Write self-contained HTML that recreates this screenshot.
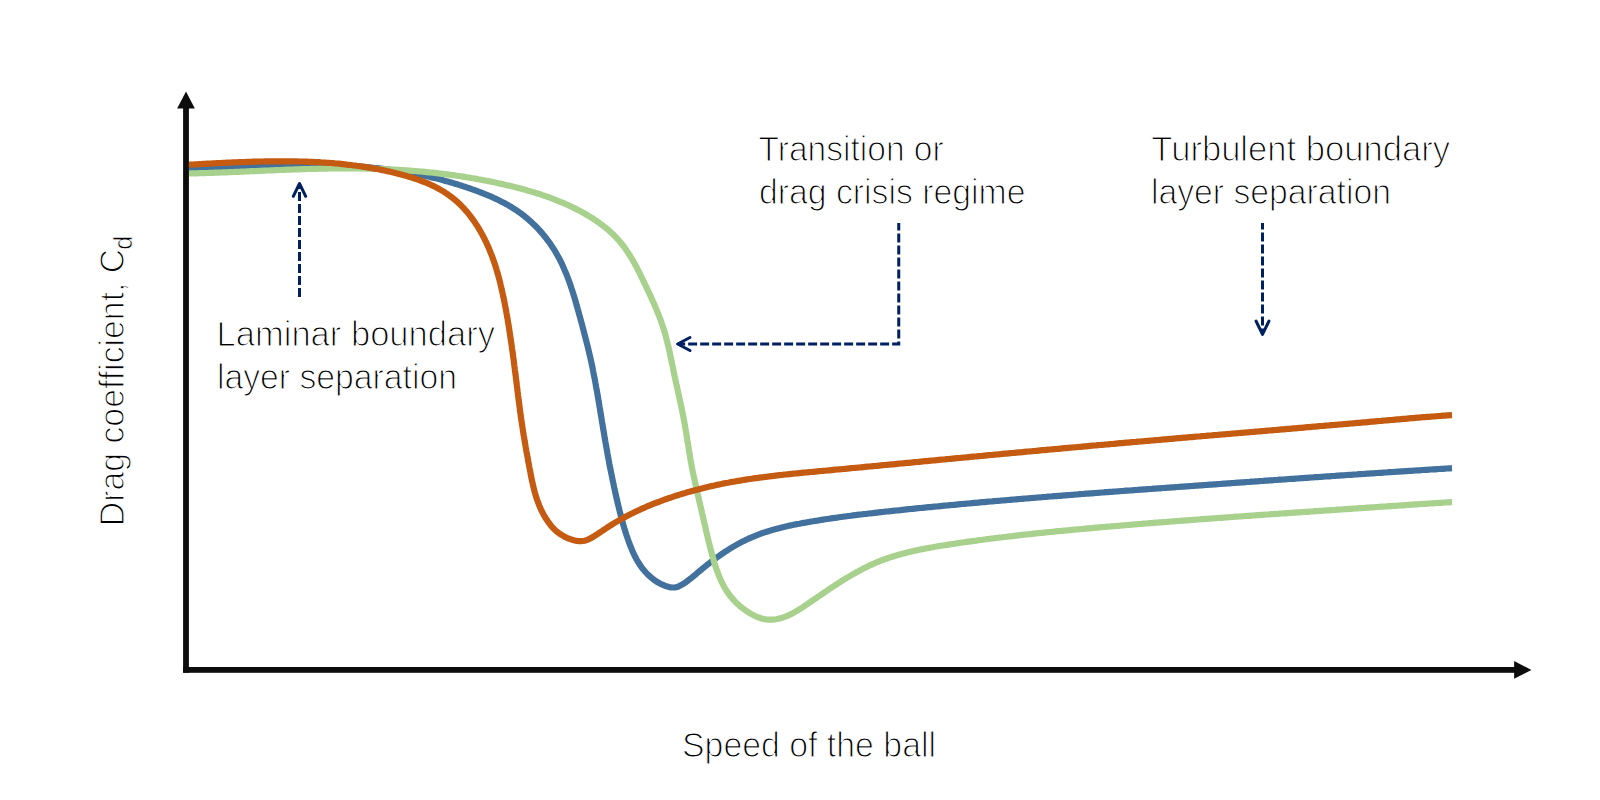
<!DOCTYPE html>
<html><head><meta charset="utf-8"><style>
html,body{margin:0;padding:0;background:#fff;width:1600px;height:800px;overflow:hidden}
svg{position:absolute;left:0;top:0}
text{font-family:"Liberation Sans",sans-serif;fill:#000}
</style></head><body>
<svg width="1600" height="800" viewBox="0 0 1600 800">
<g fill="none" stroke-width="6.2" stroke-linecap="butt" stroke-linejoin="round">
<path stroke="#41719C" d="M189.0,169.0L191.4,168.9 193.1,168.9 195.0,168.8 196.9,168.7 198.9,168.7 200.9,168.6 202.9,168.5 204.8,168.4 206.8,168.4 208.8,168.3 210.8,168.2 212.8,168.1 214.8,168.0 216.8,168.0 218.8,167.9 220.8,167.8 222.8,167.7 224.8,167.6 226.8,167.5 228.7,167.5 230.7,167.4 232.7,167.3 234.7,167.2 236.7,167.1 238.7,167.0 240.8,166.9 242.8,166.9 244.8,166.8 246.8,166.7 248.8,166.6 250.8,166.5 252.8,166.5 254.8,166.4 256.8,166.3 258.8,166.2 260.8,166.2 262.8,166.1 264.8,166.0 266.8,165.9 268.8,165.9 270.9,165.8 272.9,165.7 274.9,165.7 276.9,165.6 278.9,165.6 280.9,165.5 282.9,165.5 284.9,165.4 286.9,165.4 289.0,165.3 291.0,165.3 293.0,165.3 295.0,165.2 297.0,165.2 299.0,165.2 301.0,165.2 303.0,165.1 305.1,165.1 307.1,165.1 309.1,165.1 311.1,165.1 313.1,165.1 315.1,165.1 317.1,165.1 319.1,165.2 321.1,165.2 323.1,165.2 325.1,165.2 327.2,165.3 329.2,165.3 331.2,165.4 333.2,165.4 335.2,165.5 337.2,165.5 339.2,165.6 341.2,165.7 343.2,165.8 345.2,165.9 347.2,166.0 349.2,166.1 351.2,166.2 353.2,166.3 355.2,166.4 357.2,166.5 359.2,166.7 361.2,166.8 363.2,166.9 365.1,167.1 367.1,167.3 369.1,167.4 371.1,167.6 373.1,167.8 375.1,168.0 377.1,168.2 379.1,168.4 381.0,168.6 383.0,168.8 385.0,169.1 387.0,169.3 388.9,169.6 390.9,169.8 392.9,170.1 394.9,170.4 396.8,170.6 398.8,170.9 400.8,171.2 402.7,171.5 404.7,171.9 406.7,172.2 408.6,172.5 410.6,172.9 412.5,173.2 414.5,173.6 416.5,174.0 418.4,174.4 420.4,174.8 422.3,175.2 424.2,175.6 426.2,176.0 428.1,176.5 430.1,176.9 432.0,177.4 434.0,177.9 435.9,178.3 437.8,178.8 439.8,179.3 441.7,179.8 443.6,180.4 445.5,180.9 447.5,181.4 449.4,182.0 451.3,182.5 453.2,183.1 455.1,183.7 457.1,184.3 459.0,184.9 460.9,185.5 462.8,186.1 464.7,186.7 466.6,187.4 468.5,188.0 470.4,188.7 472.3,189.4 474.2,190.0 476.1,190.7 478.0,191.4 479.9,192.1 481.8,192.9 483.7,193.6 485.6,194.4 487.4,195.1 489.3,195.9 491.1,196.7 493.0,197.5 494.8,198.4 496.6,199.2 498.4,200.1 500.2,201.0 502.0,201.9 503.8,202.8 505.6,203.8 507.3,204.7 509.0,205.7 510.8,206.7 512.5,207.8 514.1,208.8 515.8,209.9 517.5,211.0 519.1,212.2 520.7,213.3 522.3,214.5 523.9,215.7 525.4,217.0 526.9,218.2 528.4,219.5 529.9,220.8 531.4,222.1 532.8,223.5 534.3,224.9 535.7,226.3 537.1,227.7 538.4,229.1 539.8,230.6 541.1,232.1 542.4,233.6 543.6,235.1 544.9,236.6 546.1,238.2 547.3,239.8 548.5,241.4 549.7,243.0 550.8,244.6 551.9,246.3 553.0,247.9 554.1,249.6 555.1,251.3 556.1,253.0 557.1,254.8 558.1,256.5 559.1,258.3 560.0,260.0 560.9,261.8 561.8,263.6 562.6,265.4 563.4,267.2 564.2,269.1 565.0,270.9 565.8,272.7 566.6,274.6 567.3,276.5 568.0,278.3 568.7,280.2 569.4,282.1 570.1,284.0 570.7,285.9 571.3,287.8 572.0,289.7 572.6,291.7 573.2,293.6 573.8,295.5 574.4,297.4 575.0,299.4 575.5,301.3 576.1,303.2 576.6,305.2 577.2,307.1 577.7,309.1 578.3,311.0 578.8,312.9 579.3,314.9 579.9,316.8 580.4,318.7 580.9,320.7 581.5,322.6 582.0,324.5 582.5,326.5 583.0,328.4 583.5,330.3 584.0,332.2 584.5,334.2 585.0,336.1 585.5,338.0 586.0,339.9 586.5,341.9 587.0,343.8 587.5,345.7 588.0,347.7 588.4,349.6 588.9,351.5 589.3,353.5 589.8,355.4 590.2,357.3 590.7,359.3 591.1,361.2 591.5,363.2 591.9,365.1 592.4,367.1 592.8,369.1 593.1,371.0 593.5,373.0 593.9,375.0 594.3,376.9 594.7,378.9 595.1,380.9 595.4,382.8 595.8,384.8 596.1,386.8 596.5,388.8 596.8,390.7 597.2,392.7 597.5,394.7 597.9,396.7 598.2,398.6 598.5,400.6 598.9,402.6 599.2,404.6 599.5,406.5 599.9,408.5 600.2,410.5 600.5,412.5 600.8,414.4 601.2,416.4 601.5,418.4 601.8,420.4 602.1,422.3 602.5,424.3 602.8,426.3 603.1,428.2 603.4,430.2 603.8,432.2 604.1,434.1 604.4,436.1 604.7,438.1 605.1,440.0 605.4,442.0 605.8,444.0 606.1,445.9 606.5,447.9 606.8,449.9 607.2,451.8 607.5,453.8 607.9,455.8 608.2,457.7 608.6,459.7 609.0,461.7 609.3,463.6 609.7,465.6 610.1,467.6 610.5,469.5 610.9,471.5 611.3,473.4 611.7,475.4 612.1,477.4 612.5,479.3 612.9,481.3 613.3,483.2 613.7,485.2 614.1,487.2 614.6,489.1 615.0,491.1 615.4,493.0 615.8,495.0 616.3,496.9 616.7,498.9 617.2,500.8 617.6,502.8 618.1,504.7 618.6,506.7 619.0,508.6 619.5,510.6 620.0,512.5 620.5,514.4 621.0,516.4 621.5,518.3 622.0,520.2 622.6,522.1 623.1,524.1 623.7,526.0 624.2,527.9 624.8,529.8 625.4,531.7 626.0,533.6 626.6,535.5 627.3,537.4 627.9,539.3 628.6,541.2 629.3,543.1 630.0,545.0 630.7,546.8 631.5,548.7 632.2,550.5 633.1,552.4 633.9,554.2 634.8,556.0 635.7,557.7 636.6,559.5 637.6,561.2 638.7,562.9 639.7,564.6 640.9,566.3 642.0,567.9 643.3,569.5 644.6,571.0 645.9,572.5 647.3,574.0 648.7,575.4 650.2,576.7 651.7,578.0 653.3,579.2 654.9,580.4 656.5,581.5 658.2,582.5 660.0,583.5 661.8,584.4 663.6,585.2 665.5,586.0 667.4,586.6 669.3,587.1 671.2,587.4 673.1,587.5 675.1,587.4 677.0,587.0 678.8,586.3 680.7,585.4 682.4,584.4 684.2,583.3 685.8,582.2 687.4,581.0 689.0,579.8 690.6,578.6 692.1,577.4 693.6,576.1 695.2,574.8 696.7,573.5 698.2,572.2 699.7,571.0 701.3,569.7 702.8,568.4 704.4,567.1 705.9,565.9 707.5,564.6 709.1,563.4 710.6,562.2 712.2,560.9 713.8,559.7 715.5,558.5 717.1,557.3 718.7,556.2 720.4,555.0 722.0,553.9 723.7,552.8 725.3,551.6 727.0,550.6 728.7,549.5 730.4,548.4 732.1,547.4 733.8,546.4 735.6,545.4 737.3,544.4 739.1,543.4 740.8,542.5 742.6,541.6 744.4,540.7 746.2,539.8 748.0,538.9 749.8,538.1 751.6,537.3 753.4,536.6 755.3,535.8 757.1,535.1 759.0,534.4 760.8,533.7 762.7,533.0 764.6,532.4 766.5,531.8 768.4,531.2 770.3,530.6 772.2,530.0 774.1,529.5 776.0,528.9 778.0,528.4 779.9,527.9 781.9,527.4 783.8,527.0 785.7,526.5 787.7,526.1 789.7,525.6 791.6,525.2 793.6,524.8 795.6,524.4 797.5,524.0 799.5,523.7 801.5,523.3 803.4,522.9 805.4,522.6 807.4,522.2 809.4,521.9 811.4,521.5 813.3,521.2 815.3,520.9 817.3,520.6 819.3,520.2 821.3,519.9 823.2,519.6 825.2,519.3 827.2,519.0 829.2,518.7 831.2,518.4 833.1,518.1 835.1,517.8 837.1,517.6 839.1,517.3 841.1,517.0 843.1,516.7 845.0,516.5 847.0,516.2 849.0,516.0 851.0,515.7 853.0,515.4 855.0,515.2 856.9,514.9 858.9,514.7 860.9,514.5 862.9,514.2 864.9,514.0 866.9,513.8 868.8,513.5 870.8,513.3 872.8,513.1 874.8,512.8 876.8,512.6 878.8,512.4 880.8,512.2 882.7,512.0 884.7,511.7 886.7,511.5 888.7,511.3 890.7,511.1 892.7,510.9 894.7,510.7 896.6,510.5 898.6,510.3 900.6,510.1 902.6,509.8 904.6,509.6 906.6,509.4 908.6,509.2 910.6,509.0 912.5,508.8 914.5,508.6 916.5,508.4 918.5,508.2 920.5,508.0 922.5,507.8 924.5,507.6 926.5,507.4 928.5,507.2 930.4,507.1 932.4,506.9 934.4,506.7 936.4,506.5 938.4,506.3 940.4,506.1 942.4,505.9 944.4,505.7 946.4,505.5 948.3,505.3 950.3,505.1 952.3,505.0 954.3,504.8 956.3,504.6 958.3,504.4 960.3,504.2 962.3,504.0 964.3,503.8 966.3,503.7 968.3,503.5 970.2,503.3 972.2,503.1 974.2,502.9 976.2,502.8 978.2,502.6 980.2,502.4 982.2,502.2 984.2,502.1 986.2,501.9 988.2,501.7 990.2,501.5 992.2,501.4 994.2,501.2 996.1,501.0 998.1,500.8 1000.1,500.7 1002.1,500.5 1004.1,500.3 1006.1,500.2 1008.1,500.0 1010.1,499.8 1012.1,499.6 1014.1,499.5 1016.1,499.3 1018.1,499.1 1020.1,499.0 1022.1,498.8 1024.0,498.6 1026.0,498.5 1028.0,498.3 1030.0,498.2 1032.0,498.0 1034.0,497.8 1036.0,497.7 1038.0,497.5 1040.0,497.3 1042.0,497.2 1044.0,497.0 1046.0,496.9 1048.0,496.7 1050.0,496.5 1052.0,496.4 1054.0,496.2 1056.0,496.1 1057.9,495.9 1059.9,495.8 1061.9,495.6 1063.9,495.4 1065.9,495.3 1067.9,495.1 1069.9,495.0 1071.9,494.8 1073.9,494.7 1075.9,494.5 1077.9,494.4 1079.9,494.2 1081.9,494.0 1083.9,493.9 1085.9,493.7 1087.9,493.6 1089.9,493.4 1091.9,493.3 1093.9,493.1 1095.9,493.0 1097.8,492.8 1099.8,492.7 1101.8,492.5 1103.8,492.4 1105.8,492.2 1107.8,492.1 1109.8,491.9 1111.8,491.8 1113.8,491.6 1115.8,491.5 1117.8,491.3 1119.8,491.2 1121.8,491.0 1123.8,490.9 1125.8,490.7 1127.8,490.6 1129.8,490.5 1131.8,490.3 1133.8,490.2 1135.8,490.0 1137.8,489.9 1139.8,489.7 1141.7,489.6 1143.7,489.4 1145.7,489.3 1147.7,489.1 1149.7,489.0 1151.7,488.9 1153.7,488.7 1155.7,488.6 1157.7,488.4 1159.7,488.3 1161.7,488.1 1163.7,488.0 1165.7,487.8 1167.7,487.7 1169.7,487.6 1171.7,487.4 1173.7,487.3 1175.7,487.1 1177.7,487.0 1179.7,486.8 1181.7,486.7 1183.7,486.6 1185.6,486.4 1187.6,486.3 1189.6,486.1 1191.6,486.0 1193.6,485.8 1195.6,485.7 1197.6,485.6 1199.6,485.4 1201.6,485.3 1203.6,485.1 1205.6,485.0 1207.6,484.8 1209.6,484.7 1211.6,484.6 1213.6,484.4 1215.6,484.3 1217.6,484.1 1219.6,484.0 1221.6,483.8 1223.6,483.7 1225.5,483.6 1227.5,483.4 1229.5,483.3 1231.5,483.1 1233.5,483.0 1235.5,482.8 1237.5,482.7 1239.5,482.6 1241.5,482.4 1243.5,482.3 1245.5,482.1 1247.5,482.0 1249.5,481.9 1251.5,481.7 1253.5,481.6 1255.5,481.4 1257.5,481.3 1259.5,481.1 1261.4,481.0 1263.4,480.9 1265.4,480.7 1267.4,480.6 1269.4,480.4 1271.4,480.3 1273.4,480.2 1275.4,480.0 1277.4,479.9 1279.4,479.7 1281.4,479.6 1283.4,479.5 1285.4,479.3 1287.4,479.2 1289.4,479.0 1291.4,478.9 1293.4,478.8 1295.4,478.6 1297.3,478.5 1299.3,478.3 1301.3,478.2 1303.3,478.1 1305.3,477.9 1307.3,477.8 1309.3,477.6 1311.3,477.5 1313.3,477.4 1315.3,477.2 1317.3,477.1 1319.3,477.0 1321.3,476.8 1323.3,476.7 1325.3,476.5 1327.3,476.4 1329.3,476.3 1331.3,476.1 1333.2,476.0 1335.2,475.9 1337.2,475.7 1339.2,475.6 1341.2,475.4 1343.2,475.3 1345.2,475.2 1347.2,475.0 1349.2,474.9 1351.2,474.8 1353.2,474.6 1355.2,474.5 1357.2,474.4 1359.2,474.2 1361.2,474.1 1363.2,474.0 1365.2,473.8 1367.2,473.7 1369.2,473.6 1371.2,473.4 1373.1,473.3 1375.1,473.2 1377.1,473.0 1379.1,472.9 1381.1,472.8 1383.1,472.6 1385.1,472.5 1387.1,472.4 1389.1,472.2 1391.1,472.1 1393.1,472.0 1395.1,471.8 1397.1,471.7 1399.1,471.6 1401.1,471.4 1403.1,471.3 1405.1,471.2 1407.1,471.1 1409.1,470.9 1411.1,470.8 1413.1,470.7 1415.1,470.5 1417.1,470.4 1419.1,470.3 1421.0,470.2 1423.0,470.0 1425.0,469.9 1427.0,469.8 1429.0,469.6 1431.0,469.5 1433.0,469.4 1435.0,469.3 1437.0,469.1 1439.0,469.0 1441.0,468.9 1443.0,468.8 1445.0,468.6 1447.0,468.5 1448.8,468.4 1450.3,468.3 1452.0,468.2"/>
<path stroke="#A9D18E" d="M189.0,173.5L191.4,173.4 193.1,173.4 195.0,173.4 197.0,173.3 199.0,173.2 201.0,173.2 203.0,173.1 205.0,173.1 207.0,173.0 209.0,172.9 211.0,172.9 213.0,172.8 215.0,172.7 217.0,172.7 219.0,172.6 221.0,172.5 223.0,172.4 225.0,172.4 227.0,172.3 229.0,172.2 231.0,172.1 233.0,172.0 235.0,171.9 237.0,171.9 239.0,171.8 241.0,171.7 243.0,171.6 245.0,171.5 247.0,171.4 249.0,171.3 251.0,171.2 253.0,171.2 255.0,171.1 257.0,171.0 259.0,170.9 261.0,170.8 263.0,170.7 265.0,170.6 267.0,170.5 269.0,170.5 271.0,170.4 273.0,170.3 275.0,170.2 277.0,170.1 279.0,170.0 281.0,170.0 283.0,169.9 285.0,169.8 287.0,169.7 289.0,169.6 291.0,169.6 293.0,169.5 295.0,169.4 297.0,169.4 299.0,169.3 301.0,169.2 303.0,169.2 305.0,169.1 307.0,169.0 309.0,169.0 311.0,168.9 313.0,168.9 315.0,168.8 317.0,168.8 319.0,168.7 321.0,168.7 323.0,168.6 325.0,168.6 327.0,168.6 329.0,168.5 331.0,168.5 333.0,168.5 335.0,168.5 337.0,168.4 339.0,168.4 341.0,168.4 343.0,168.4 345.0,168.4 347.0,168.4 349.0,168.4 351.0,168.4 353.0,168.4 355.0,168.4 357.0,168.5 359.0,168.5 361.0,168.5 363.0,168.5 365.0,168.6 367.0,168.6 369.0,168.7 371.0,168.7 373.0,168.8 375.0,168.8 377.0,168.9 379.0,169.0 381.0,169.0 383.0,169.1 385.0,169.2 387.0,169.3 389.0,169.4 391.0,169.5 393.0,169.6 395.0,169.7 397.0,169.8 399.0,169.9 401.0,170.0 403.0,170.1 405.0,170.3 407.0,170.4 409.0,170.6 410.9,170.7 412.9,170.9 414.9,171.0 416.9,171.2 418.9,171.3 420.9,171.5 422.9,171.7 424.9,171.9 426.9,172.1 428.9,172.3 430.9,172.5 432.9,172.7 434.8,172.9 436.8,173.1 438.8,173.4 440.8,173.6 442.8,173.8 444.8,174.1 446.8,174.3 448.7,174.6 450.7,174.9 452.7,175.1 454.7,175.4 456.7,175.7 458.7,176.0 460.6,176.3 462.6,176.6 464.6,176.9 466.6,177.2 468.5,177.5 470.5,177.9 472.5,178.2 474.5,178.5 476.4,178.9 478.4,179.3 480.4,179.6 482.3,180.0 484.3,180.4 486.3,180.7 488.2,181.1 490.2,181.5 492.2,181.9 494.1,182.3 496.1,182.7 498.0,183.2 500.0,183.6 501.9,184.0 503.9,184.5 505.8,184.9 507.8,185.4 509.7,185.8 511.7,186.3 513.6,186.8 515.6,187.3 517.5,187.8 519.4,188.3 521.4,188.8 523.3,189.3 525.2,189.8 527.1,190.4 529.1,190.9 531.0,191.5 532.9,192.0 534.8,192.6 536.7,193.2 538.6,193.8 540.5,194.4 542.4,195.1 544.3,195.7 546.2,196.4 548.0,197.0 549.9,197.7 551.8,198.4 553.6,199.1 555.5,199.8 557.4,200.6 559.2,201.3 561.1,202.1 562.9,202.8 564.7,203.6 566.6,204.5 568.4,205.3 570.2,206.1 572.0,207.0 573.8,207.9 575.6,208.7 577.4,209.7 579.2,210.6 580.9,211.5 582.7,212.5 584.5,213.5 586.2,214.5 587.9,215.5 589.7,216.6 591.4,217.6 593.1,218.7 594.8,219.8 596.4,220.9 598.1,222.1 599.7,223.2 601.3,224.4 602.9,225.6 604.5,226.9 606.1,228.1 607.6,229.4 609.1,230.7 610.6,232.0 612.1,233.4 613.5,234.8 614.9,236.2 616.3,237.6 617.6,239.1 618.9,240.5 620.2,242.1 621.5,243.6 622.7,245.1 623.9,246.7 625.1,248.3 626.2,249.9 627.3,251.6 628.4,253.2 629.5,254.9 630.5,256.6 631.6,258.3 632.6,260.0 633.6,261.8 634.6,263.5 635.5,265.3 636.5,267.1 637.4,268.8 638.3,270.6 639.2,272.4 640.1,274.2 641.0,276.0 641.9,277.8 642.8,279.7 643.6,281.5 644.5,283.3 645.4,285.1 646.2,286.9 647.1,288.7 647.9,290.5 648.8,292.3 649.6,294.2 650.5,296.0 651.3,297.8 652.1,299.6 652.9,301.4 653.8,303.2 654.5,305.0 655.3,306.9 656.1,308.7 656.9,310.5 657.6,312.4 658.4,314.2 659.1,316.0 659.8,317.9 660.5,319.8 661.2,321.6 661.8,323.5 662.5,325.4 663.1,327.3 663.7,329.1 664.3,331.0 664.8,333.0 665.4,334.9 665.9,336.8 666.4,338.7 666.9,340.7 667.4,342.6 667.9,344.6 668.4,346.5 668.8,348.5 669.3,350.4 669.7,352.4 670.1,354.4 670.5,356.3 670.9,358.3 671.4,360.3 671.8,362.3 672.2,364.2 672.6,366.2 673.0,368.2 673.4,370.1 673.8,372.1 674.2,374.1 674.6,376.1 675.0,378.0 675.4,380.0 675.9,381.9 676.3,383.9 676.7,385.8 677.2,387.8 677.6,389.7 678.0,391.7 678.4,393.6 678.9,395.6 679.3,397.5 679.7,399.5 680.2,401.4 680.6,403.4 681.0,405.3 681.4,407.3 681.8,409.2 682.2,411.2 682.6,413.1 683.0,415.1 683.4,417.0 683.8,419.0 684.1,421.0 684.5,422.9 684.8,424.9 685.2,426.9 685.5,428.8 685.8,430.8 686.2,432.8 686.5,434.8 686.8,436.7 687.1,438.7 687.4,440.7 687.7,442.7 688.1,444.6 688.4,446.6 688.7,448.6 689.0,450.6 689.3,452.6 689.7,454.5 690.0,456.5 690.3,458.5 690.7,460.5 691.0,462.4 691.4,464.4 691.8,466.4 692.1,468.3 692.5,470.3 692.9,472.3 693.3,474.2 693.7,476.2 694.1,478.1 694.6,480.1 695.0,482.0 695.4,484.0 695.9,485.9 696.3,487.9 696.7,489.9 697.2,491.8 697.6,493.7 698.1,495.7 698.5,497.6 699.0,499.6 699.4,501.5 699.9,503.5 700.3,505.4 700.8,507.4 701.2,509.3 701.7,511.3 702.1,513.2 702.6,515.2 703.0,517.1 703.4,519.0 703.9,521.0 704.3,522.9 704.8,524.9 705.2,526.8 705.7,528.8 706.1,530.7 706.6,532.7 707.0,534.6 707.5,536.5 707.9,538.5 708.4,540.4 708.9,542.4 709.4,544.3 709.8,546.3 710.3,548.2 710.9,550.2 711.4,552.1 711.9,554.0 712.4,556.0 713.0,557.9 713.5,559.9 714.1,561.8 714.7,563.7 715.3,565.7 715.9,567.6 716.6,569.5 717.3,571.4 718.0,573.2 718.7,575.1 719.4,577.0 720.2,578.8 721.0,580.6 721.9,582.4 722.8,584.2 723.7,585.9 724.7,587.7 725.7,589.4 726.7,591.0 727.8,592.7 729.0,594.3 730.1,595.9 731.4,597.4 732.7,598.9 734.0,600.4 735.4,601.9 736.8,603.3 738.3,604.6 739.8,606.0 741.4,607.3 743.0,608.5 744.7,609.7 746.3,610.9 748.0,612.0 749.8,613.1 751.5,614.1 753.3,615.1 755.1,616.0 757.0,616.8 758.8,617.5 760.7,618.2 762.6,618.7 764.5,619.1 766.4,619.4 768.4,619.6 770.3,619.7 772.3,619.7 774.3,619.5 776.2,619.2 778.2,618.8 780.2,618.4 782.1,617.8 784.0,617.1 786.0,616.4 787.9,615.6 789.7,614.8 791.6,613.9 793.4,612.9 795.1,611.9 796.9,610.9 798.6,609.9 800.2,608.8 801.9,607.8 803.5,606.7 805.1,605.6 806.8,604.5 808.4,603.4 810.0,602.3 811.7,601.1 813.3,600.0 814.9,598.9 816.6,597.8 818.2,596.6 819.9,595.5 821.5,594.4 823.2,593.3 824.8,592.1 826.5,591.0 828.2,589.9 829.8,588.8 831.5,587.6 833.2,586.5 834.9,585.4 836.6,584.3 838.3,583.2 840.0,582.1 841.7,581.0 843.4,580.0 845.1,578.9 846.8,577.9 848.6,576.8 850.3,575.8 852.0,574.8 853.8,573.8 855.5,572.8 857.3,571.8 859.0,570.8 860.8,569.9 862.6,569.0 864.4,568.1 866.2,567.2 868.0,566.3 869.8,565.4 871.6,564.6 873.4,563.8 875.2,563.0 877.1,562.2 878.9,561.5 880.8,560.7 882.6,560.0 884.5,559.3 886.4,558.7 888.2,558.0 890.1,557.4 892.0,556.8 893.9,556.2 895.8,555.6 897.7,555.0 899.6,554.5 901.6,554.0 903.5,553.4 905.4,552.9 907.3,552.4 909.3,552.0 911.2,551.5 913.2,551.1 915.1,550.6 917.1,550.2 919.0,549.8 921.0,549.4 923.0,549.0 924.9,548.6 926.9,548.2 928.9,547.9 930.8,547.5 932.8,547.2 934.8,546.8 936.8,546.5 938.7,546.1 940.7,545.8 942.7,545.5 944.7,545.2 946.7,544.9 948.7,544.6 950.6,544.3 952.6,544.0 954.6,543.7 956.6,543.4 958.6,543.1 960.6,542.8 962.6,542.5 964.5,542.2 966.5,541.9 968.5,541.7 970.5,541.4 972.5,541.1 974.5,540.8 976.5,540.6 978.4,540.3 980.4,540.0 982.4,539.8 984.4,539.5 986.4,539.2 988.4,539.0 990.4,538.7 992.3,538.5 994.3,538.2 996.3,538.0 998.3,537.7 1000.3,537.5 1002.3,537.3 1004.3,537.0 1006.2,536.8 1008.2,536.5 1010.2,536.3 1012.2,536.1 1014.2,535.8 1016.2,535.6 1018.2,535.4 1020.2,535.2 1022.1,534.9 1024.1,534.7 1026.1,534.5 1028.1,534.3 1030.1,534.1 1032.1,533.9 1034.1,533.7 1036.1,533.4 1038.1,533.2 1040.0,533.0 1042.0,532.8 1044.0,532.6 1046.0,532.4 1048.0,532.2 1050.0,532.0 1052.0,531.8 1054.0,531.6 1056.0,531.4 1057.9,531.2 1059.9,531.0 1061.9,530.8 1063.9,530.6 1065.9,530.5 1067.9,530.3 1069.9,530.1 1071.9,529.9 1073.9,529.7 1075.9,529.5 1077.8,529.3 1079.8,529.2 1081.8,529.0 1083.8,528.8 1085.8,528.6 1087.8,528.4 1089.8,528.3 1091.8,528.1 1093.8,527.9 1095.8,527.7 1097.8,527.6 1099.7,527.4 1101.7,527.2 1103.7,527.0 1105.7,526.9 1107.7,526.7 1109.7,526.5 1111.7,526.3 1113.7,526.2 1115.7,526.0 1117.7,525.8 1119.7,525.7 1121.7,525.5 1123.7,525.3 1125.7,525.2 1127.6,525.0 1129.6,524.8 1131.6,524.7 1133.6,524.5 1135.6,524.3 1137.6,524.2 1139.6,524.0 1141.6,523.9 1143.6,523.7 1145.6,523.5 1147.6,523.4 1149.6,523.2 1151.6,523.1 1153.6,522.9 1155.6,522.7 1157.6,522.6 1159.6,522.4 1161.5,522.3 1163.5,522.1 1165.5,522.0 1167.5,521.8 1169.5,521.6 1171.5,521.5 1173.5,521.3 1175.5,521.2 1177.5,521.0 1179.5,520.9 1181.5,520.7 1183.5,520.6 1185.5,520.4 1187.5,520.3 1189.5,520.1 1191.5,520.0 1193.5,519.8 1195.5,519.7 1197.5,519.5 1199.5,519.4 1201.5,519.2 1203.5,519.1 1205.4,518.9 1207.4,518.8 1209.4,518.6 1211.4,518.5 1213.4,518.3 1215.4,518.2 1217.4,518.0 1219.4,517.9 1221.4,517.8 1223.4,517.6 1225.4,517.5 1227.4,517.3 1229.4,517.2 1231.4,517.0 1233.4,516.9 1235.4,516.7 1237.4,516.6 1239.4,516.5 1241.4,516.3 1243.4,516.2 1245.4,516.0 1247.4,515.9 1249.4,515.8 1251.4,515.6 1253.4,515.5 1255.4,515.3 1257.4,515.2 1259.4,515.1 1261.4,514.9 1263.4,514.8 1265.3,514.6 1267.3,514.5 1269.3,514.4 1271.3,514.2 1273.3,514.1 1275.3,513.9 1277.3,513.8 1279.3,513.7 1281.3,513.5 1283.3,513.4 1285.3,513.3 1287.3,513.1 1289.3,513.0 1291.3,512.8 1293.3,512.7 1295.3,512.6 1297.3,512.4 1299.3,512.3 1301.3,512.2 1303.3,512.0 1305.3,511.9 1307.3,511.8 1309.3,511.6 1311.3,511.5 1313.3,511.4 1315.3,511.2 1317.3,511.1 1319.3,510.9 1321.3,510.8 1323.3,510.7 1325.2,510.5 1327.2,510.4 1329.2,510.3 1331.2,510.1 1333.2,510.0 1335.2,509.9 1337.2,509.7 1339.2,509.6 1341.2,509.5 1343.2,509.3 1345.2,509.2 1347.2,509.1 1349.2,508.9 1351.2,508.8 1353.2,508.6 1355.2,508.5 1357.2,508.4 1359.2,508.2 1361.2,508.1 1363.2,508.0 1365.2,507.8 1367.2,507.7 1369.1,507.6 1371.1,507.4 1373.1,507.3 1375.1,507.2 1377.1,507.0 1379.1,506.9 1381.1,506.7 1383.1,506.6 1385.1,506.5 1387.1,506.3 1389.1,506.2 1391.1,506.1 1393.1,505.9 1395.1,505.8 1397.1,505.7 1399.1,505.5 1401.1,505.4 1403.0,505.3 1405.0,505.1 1407.0,505.0 1409.0,504.8 1411.0,504.7 1413.0,504.6 1415.0,504.4 1417.0,504.3 1419.0,504.2 1421.0,504.0 1423.0,503.9 1425.0,503.8 1427.0,503.7 1429.0,503.5 1431.0,503.4 1433.0,503.3 1435.0,503.1 1437.0,503.0 1439.0,502.9 1441.0,502.8 1443.0,502.6 1445.0,502.5 1446.9,502.4 1448.8,502.3 1450.2,502.2 1452.0,502.1"/>
<path stroke="#C55A11" d="M189.0,164.7L191.4,164.6 193.1,164.5 195.0,164.4 197.0,164.3 199.0,164.1 201.0,164.0 203.0,163.9 205.0,163.8 207.0,163.7 209.0,163.6 211.0,163.5 213.0,163.4 215.0,163.3 217.0,163.2 219.0,163.1 221.0,163.0 223.0,162.9 225.0,162.8 227.0,162.7 229.0,162.6 231.0,162.5 233.0,162.4 235.0,162.3 237.0,162.3 239.0,162.2 241.0,162.1 243.0,162.0 245.0,162.0 247.0,161.9 249.0,161.8 251.0,161.8 253.0,161.7 255.0,161.6 257.0,161.6 259.0,161.5 261.0,161.5 262.9,161.5 264.9,161.4 266.9,161.4 268.9,161.4 270.9,161.3 272.9,161.3 274.9,161.3 276.9,161.3 278.9,161.3 280.9,161.3 282.9,161.3 284.9,161.3 286.9,161.3 288.9,161.3 290.9,161.3 292.9,161.4 294.9,161.4 296.9,161.4 298.9,161.5 300.9,161.5 302.9,161.6 304.9,161.6 306.9,161.7 308.9,161.8 310.9,161.9 312.9,161.9 314.9,162.0 316.9,162.1 318.9,162.2 320.9,162.4 322.9,162.5 324.9,162.6 326.9,162.8 328.9,162.9 330.9,163.0 332.9,163.2 334.9,163.4 336.9,163.5 338.9,163.7 340.9,163.9 342.9,164.1 344.8,164.3 346.8,164.6 348.8,164.8 350.8,165.0 352.8,165.3 354.8,165.5 356.8,165.8 358.8,166.0 360.8,166.3 362.7,166.6 364.7,166.9 366.7,167.2 368.7,167.6 370.7,167.9 372.6,168.2 374.6,168.6 376.6,169.0 378.5,169.3 380.5,169.7 382.5,170.1 384.4,170.5 386.4,170.9 388.4,171.4 390.3,171.8 392.3,172.3 394.2,172.7 396.2,173.2 398.1,173.7 400.0,174.2 402.0,174.7 403.9,175.3 405.8,175.8 407.8,176.4 409.7,176.9 411.6,177.5 413.5,178.2 415.4,178.8 417.3,179.4 419.2,180.1 421.0,180.8 422.9,181.5 424.7,182.2 426.6,183.0 428.4,183.7 430.2,184.5 432.0,185.4 433.8,186.2 435.5,187.1 437.3,188.0 439.0,188.9 440.7,189.9 442.4,190.9 444.1,191.9 445.7,193.0 447.4,194.1 449.0,195.2 450.6,196.4 452.1,197.5 453.7,198.8 455.2,200.0 456.7,201.3 458.2,202.7 459.6,204.0 461.0,205.4 462.4,206.9 463.8,208.3 465.1,209.8 466.5,211.3 467.8,212.9 469.0,214.4 470.3,216.0 471.5,217.7 472.7,219.3 473.9,221.0 475.0,222.6 476.1,224.3 477.3,226.0 478.3,227.8 479.4,229.5 480.4,231.3 481.4,233.1 482.4,234.8 483.3,236.6 484.3,238.4 485.2,240.3 486.1,242.1 486.9,243.9 487.7,245.7 488.6,247.6 489.3,249.4 490.1,251.3 490.8,253.1 491.6,255.0 492.3,256.8 492.9,258.7 493.6,260.5 494.2,262.4 494.9,264.3 495.5,266.2 496.1,268.0 496.6,269.9 497.2,271.8 497.7,273.7 498.3,275.6 498.8,277.5 499.3,279.4 499.8,281.3 500.3,283.3 500.7,285.2 501.2,287.1 501.6,289.1 502.1,291.0 502.5,293.0 502.9,294.9 503.3,296.9 503.8,298.8 504.2,300.8 504.6,302.8 504.9,304.7 505.3,306.7 505.7,308.7 506.1,310.7 506.4,312.6 506.8,314.6 507.1,316.6 507.5,318.6 507.8,320.6 508.1,322.6 508.5,324.6 508.8,326.5 509.1,328.5 509.4,330.5 509.7,332.5 510.0,334.5 510.3,336.5 510.6,338.5 510.9,340.4 511.2,342.4 511.5,344.4 511.8,346.4 512.0,348.4 512.3,350.3 512.6,352.3 512.9,354.3 513.1,356.3 513.4,358.2 513.7,360.2 513.9,362.2 514.2,364.2 514.4,366.1 514.7,368.1 514.9,370.1 515.2,372.1 515.4,374.0 515.7,376.0 515.9,378.0 516.2,380.0 516.4,382.0 516.7,383.9 516.9,385.9 517.2,387.9 517.4,389.9 517.6,391.9 517.9,393.9 518.1,395.9 518.4,397.8 518.6,399.8 518.9,401.8 519.2,403.8 519.4,405.8 519.7,407.8 519.9,409.8 520.2,411.8 520.5,413.7 520.7,415.7 521.0,417.7 521.3,419.7 521.6,421.7 521.9,423.7 522.2,425.6 522.5,427.6 522.8,429.6 523.1,431.6 523.4,433.5 523.7,435.5 524.1,437.5 524.4,439.5 524.7,441.4 525.1,443.4 525.4,445.4 525.7,447.3 526.1,449.3 526.4,451.3 526.8,453.2 527.2,455.2 527.5,457.2 527.9,459.1 528.2,461.1 528.6,463.1 529.0,465.0 529.3,467.0 529.7,469.0 530.1,470.9 530.5,472.9 530.8,474.9 531.2,476.8 531.6,478.8 532.0,480.8 532.5,482.7 532.9,484.7 533.3,486.6 533.8,488.6 534.3,490.5 534.8,492.4 535.4,494.3 535.9,496.2 536.6,498.1 537.2,500.0 537.9,501.9 538.6,503.8 539.3,505.6 540.1,507.5 540.9,509.3 541.8,511.1 542.7,512.9 543.6,514.7 544.6,516.4 545.7,518.2 546.8,519.8 547.9,521.5 549.1,523.1 550.3,524.7 551.5,526.2 552.8,527.7 554.2,529.1 555.6,530.5 557.1,531.8 558.7,533.0 560.3,534.1 562.0,535.2 563.7,536.2 565.5,537.2 567.3,538.0 569.2,538.8 571.1,539.4 573.0,540.0 574.9,540.5 576.9,540.9 578.8,541.1 580.8,541.1 582.7,541.0 584.6,540.7 586.5,540.1 588.4,539.4 590.2,538.5 592.0,537.5 593.8,536.5 595.4,535.4 597.1,534.3 598.8,533.2 600.4,532.1 602.1,531.0 603.7,529.9 605.4,528.8 607.0,527.7 608.7,526.6 610.4,525.5 612.1,524.5 613.8,523.4 615.5,522.4 617.3,521.4 619.0,520.4 620.7,519.4 622.5,518.4 624.2,517.5 626.0,516.5 627.8,515.6 629.5,514.7 631.3,513.8 633.1,512.9 634.9,512.0 636.7,511.2 638.5,510.3 640.4,509.5 642.2,508.6 644.0,507.8 645.9,507.0 647.7,506.2 649.5,505.5 651.4,504.7 653.3,503.9 655.1,503.2 657.0,502.5 658.9,501.8 660.7,501.1 662.6,500.4 664.5,499.7 666.4,499.0 668.3,498.3 670.2,497.7 672.1,497.1 674.0,496.4 675.9,495.8 677.8,495.2 679.7,494.6 681.6,494.0 683.5,493.4 685.4,492.9 687.3,492.3 689.3,491.8 691.2,491.2 693.1,490.7 695.0,490.2 697.0,489.7 698.9,489.2 700.8,488.7 702.8,488.2 704.7,487.7 706.7,487.2 708.6,486.8 710.5,486.3 712.5,485.9 714.4,485.5 716.4,485.0 718.3,484.6 720.3,484.2 722.3,483.8 724.2,483.4 726.2,483.0 728.1,482.7 730.1,482.3 732.1,481.9 734.0,481.6 736.0,481.2 738.0,480.9 739.9,480.6 741.9,480.2 743.9,479.9 745.8,479.6 747.8,479.3 749.8,479.0 751.8,478.7 753.7,478.4 755.7,478.1 757.7,477.9 759.7,477.6 761.7,477.3 763.6,477.1 765.6,476.8 767.6,476.6 769.6,476.3 771.6,476.1 773.6,475.9 775.6,475.6 777.5,475.4 779.5,475.2 781.5,475.0 783.5,474.7 785.5,474.5 787.5,474.3 789.5,474.1 791.5,473.9 793.5,473.7 795.4,473.5 797.4,473.3 799.4,473.1 801.4,472.9 803.4,472.7 805.4,472.5 807.4,472.3 809.4,472.1 811.4,472.0 813.4,471.8 815.4,471.6 817.4,471.4 819.4,471.2 821.4,471.0 823.3,470.8 825.3,470.7 827.3,470.5 829.3,470.3 831.3,470.1 833.3,469.9 835.3,469.7 837.3,469.5 839.3,469.3 841.3,469.2 843.3,469.0 845.3,468.8 847.3,468.6 849.3,468.4 851.2,468.2 853.2,468.0 855.2,467.8 857.2,467.7 859.2,467.5 861.2,467.3 863.2,467.1 865.2,466.9 867.2,466.7 869.2,466.5 871.2,466.3 873.2,466.1 875.1,466.0 877.1,465.8 879.1,465.6 881.1,465.4 883.1,465.2 885.1,465.0 887.1,464.8 889.1,464.6 891.1,464.4 893.1,464.3 895.1,464.1 897.1,463.9 899.1,463.7 901.0,463.5 903.0,463.3 905.0,463.1 907.0,462.9 909.0,462.8 911.0,462.6 913.0,462.4 915.0,462.2 917.0,462.0 919.0,461.8 921.0,461.6 922.9,461.4 924.9,461.2 926.9,461.1 928.9,460.9 930.9,460.7 932.9,460.5 934.9,460.3 936.9,460.1 938.9,459.9 940.9,459.7 942.9,459.5 944.9,459.4 946.8,459.2 948.8,459.0 950.8,458.8 952.8,458.6 954.8,458.4 956.8,458.2 958.8,458.0 960.8,457.9 962.8,457.7 964.8,457.5 966.8,457.3 968.7,457.1 970.7,456.9 972.7,456.7 974.7,456.5 976.7,456.4 978.7,456.2 980.7,456.0 982.7,455.8 984.7,455.6 986.7,455.4 988.7,455.2 990.7,455.0 992.6,454.9 994.6,454.7 996.6,454.5 998.6,454.3 1000.6,454.1 1002.6,453.9 1004.6,453.7 1006.6,453.6 1008.6,453.4 1010.6,453.2 1012.6,453.0 1014.5,452.8 1016.5,452.6 1018.5,452.4 1020.5,452.3 1022.5,452.1 1024.5,451.9 1026.5,451.7 1028.5,451.5 1030.5,451.3 1032.5,451.2 1034.5,451.0 1036.4,450.8 1038.4,450.6 1040.4,450.4 1042.4,450.2 1044.4,450.1 1046.4,449.9 1048.4,449.7 1050.4,449.5 1052.4,449.3 1054.4,449.1 1056.4,449.0 1058.4,448.8 1060.3,448.6 1062.3,448.4 1064.3,448.2 1066.3,448.1 1068.3,447.9 1070.3,447.7 1072.3,447.5 1074.3,447.3 1076.3,447.2 1078.3,447.0 1080.3,446.8 1082.3,446.6 1084.3,446.4 1086.2,446.3 1088.2,446.1 1090.2,445.9 1092.2,445.7 1094.2,445.5 1096.2,445.4 1098.2,445.2 1100.2,445.0 1102.2,444.8 1104.2,444.7 1106.2,444.5 1108.2,444.3 1110.1,444.1 1112.1,444.0 1114.1,443.8 1116.1,443.6 1118.1,443.4 1120.1,443.2 1122.1,443.1 1124.1,442.9 1126.1,442.7 1128.1,442.6 1130.1,442.4 1132.1,442.2 1134.1,442.0 1136.1,441.9 1138.0,441.7 1140.0,441.5 1142.0,441.3 1144.0,441.2 1146.0,441.0 1148.0,440.8 1150.0,440.6 1152.0,440.5 1154.0,440.3 1156.0,440.1 1158.0,440.0 1160.0,439.8 1162.0,439.6 1164.0,439.4 1166.0,439.3 1167.9,439.1 1169.9,438.9 1171.9,438.8 1173.9,438.6 1175.9,438.4 1177.9,438.2 1179.9,438.1 1181.9,437.9 1183.9,437.7 1185.9,437.6 1187.9,437.4 1189.9,437.2 1191.9,437.1 1193.9,436.9 1195.9,436.7 1197.8,436.5 1199.8,436.4 1201.8,436.2 1203.8,436.0 1205.8,435.9 1207.8,435.7 1209.8,435.5 1211.8,435.4 1213.8,435.2 1215.8,435.0 1217.8,434.9 1219.8,434.7 1221.8,434.5 1223.8,434.3 1225.8,434.2 1227.8,434.0 1229.7,433.8 1231.7,433.7 1233.7,433.5 1235.7,433.3 1237.7,433.2 1239.7,433.0 1241.7,432.8 1243.7,432.7 1245.7,432.5 1247.7,432.3 1249.7,432.2 1251.7,432.0 1253.7,431.8 1255.7,431.6 1257.7,431.5 1259.7,431.3 1261.6,431.1 1263.6,431.0 1265.6,430.8 1267.6,430.6 1269.6,430.5 1271.6,430.3 1273.6,430.1 1275.6,430.0 1277.6,429.8 1279.6,429.6 1281.6,429.4 1283.6,429.3 1285.6,429.1 1287.6,428.9 1289.6,428.8 1291.5,428.6 1293.5,428.4 1295.5,428.3 1297.5,428.1 1299.5,427.9 1301.5,427.8 1303.5,427.6 1305.5,427.4 1307.5,427.2 1309.5,427.1 1311.5,426.9 1313.5,426.7 1315.5,426.6 1317.5,426.4 1319.4,426.2 1321.4,426.0 1323.4,425.9 1325.4,425.7 1327.4,425.5 1329.4,425.4 1331.4,425.2 1333.4,425.0 1335.4,424.8 1337.4,424.7 1339.4,424.5 1341.4,424.3 1343.4,424.2 1345.4,424.0 1347.3,423.8 1349.3,423.6 1351.3,423.5 1353.3,423.3 1355.3,423.1 1357.3,422.9 1359.3,422.8 1361.3,422.6 1363.3,422.4 1365.3,422.3 1367.3,422.1 1369.3,421.9 1371.3,421.7 1373.2,421.6 1375.2,421.4 1377.2,421.2 1379.2,421.0 1381.2,420.9 1383.2,420.7 1385.2,420.5 1387.2,420.3 1389.2,420.1 1391.2,420.0 1393.2,419.8 1395.2,419.6 1397.1,419.4 1399.1,419.3 1401.1,419.1 1403.1,418.9 1405.1,418.8 1407.1,418.6 1409.1,418.4 1411.1,418.2 1413.1,418.1 1415.1,417.9 1417.1,417.7 1419.1,417.6 1421.1,417.4 1423.1,417.2 1425.0,417.1 1427.0,416.9 1429.0,416.8 1431.0,416.6 1433.0,416.5 1435.0,416.3 1437.0,416.2 1439.0,416.0 1441.0,415.9 1443.0,415.7 1445.0,415.6 1446.9,415.4 1448.8,415.3 1450.2,415.2 1452.0,415.1"/>
</g>
<g fill="#0d0d0d">
<rect x="183.1" y="107" width="5.8" height="565.7"/>
<rect x="183.1" y="667" width="1333" height="5.8"/>
<polygon points="186,91.5 177.15,108.5 194.85,108.5"/>
<polygon points="1531.4,669.9 1514.15,661.1 1514.15,678.75"/>
</g>
<g fill="none" stroke="#002060" stroke-width="3" stroke-dasharray="9 3">
<path d="M299.5,297 V185"/>
<path d="M898.75,223 V344 H680" stroke-dashoffset="1.4"/>
<path d="M1262.5,223 V332" stroke-dashoffset="2.5"/>
</g>
<g fill="none" stroke="#002060" stroke-width="3" stroke-linecap="round" stroke-linejoin="round">
<path d="M293.3,196.3 L299.5,183.5 L305.7,196.3"/>
<path d="M690,337.5 L677.6,344 L690,350.5"/>
<path d="M1256,321 L1262.5,334.4 L1269,321"/>
</g>
<g font-size="35" stroke="#fff" stroke-width="1.2">
<text x="216.5" y="345.8" textLength="278.5" lengthAdjust="spacingAndGlyphs">Laminar boundary</text>
<text x="217.0" y="388.8" textLength="240.0" lengthAdjust="spacingAndGlyphs">layer separation</text>
<text x="758.5" y="160.8" textLength="185.2" lengthAdjust="spacingAndGlyphs">Transition or</text>
<text x="759.0" y="203.8" textLength="266.5" lengthAdjust="spacingAndGlyphs">drag crisis regime</text>
<text x="1151.3" y="161" textLength="298.7" lengthAdjust="spacingAndGlyphs">Turbulent boundary</text>
<text x="1151.0" y="203.8" textLength="240.0" lengthAdjust="spacingAndGlyphs">layer separation</text>
<text x="682.0" y="756.5" textLength="254.0" lengthAdjust="spacingAndGlyphs">Speed of the ball</text>
<g transform="translate(124,523.75) rotate(-90)"><text x="-2.5" y="0" textLength="277.5" lengthAdjust="spacingAndGlyphs">Drag coefficient, C</text><text x="274" y="8" font-size="25" stroke-width="0.6">d</text></g>
</g>
</svg>
</body></html>
